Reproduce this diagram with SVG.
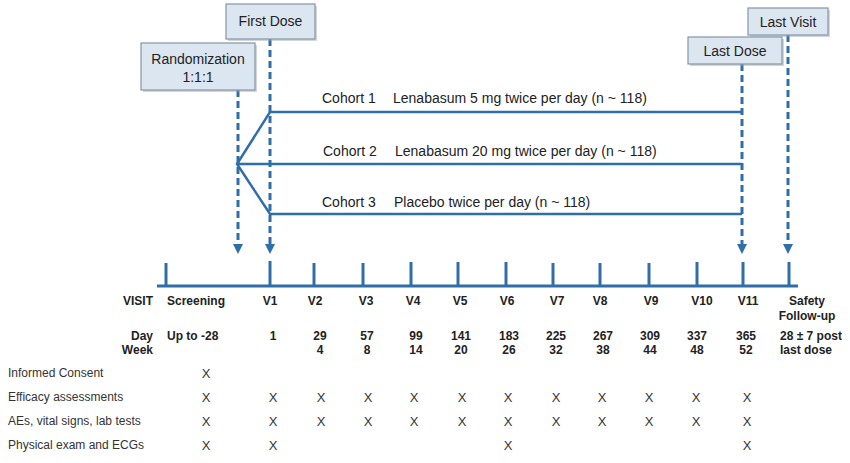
<svg xmlns="http://www.w3.org/2000/svg" width="850" height="463" viewBox="0 0 850 463">
<defs>
<style>
.box{fill:#dce6f0;stroke:#8496a8;stroke-width:1.2}
.shadow{fill:#9aa4ae;opacity:0.45}
.bt{font-family:"Liberation Sans",Arial,sans-serif;font-size:14px;fill:#222;text-anchor:middle}
.ct{font-family:"Liberation Sans",Arial,sans-serif;font-size:14px;fill:#222}
.ln{stroke:#2f6ea8;stroke-width:2.5;fill:none}
.dash{stroke:#2f6ea8;stroke-width:3;stroke-dasharray:7,4;fill:none}
.tick{stroke:#2f6ea8;stroke-width:3;fill:none}
.b{font-family:"Liberation Sans",Arial,sans-serif;font-size:12px;font-weight:bold;fill:#222;text-anchor:middle}
.bl{font-family:"Liberation Sans",Arial,sans-serif;font-size:12px;font-weight:bold;fill:#222}
.br{font-family:"Liberation Sans",Arial,sans-serif;font-size:12px;font-weight:bold;fill:#222;text-anchor:end}
.r{font-family:"Liberation Sans",Arial,sans-serif;font-size:12px;fill:#333}
.x{font-family:"Liberation Sans",Arial,sans-serif;font-size:13px;fill:#333;text-anchor:middle}
</style>
<marker id="ah" viewBox="0 0 10 10" refX="10" refY="5" markerWidth="10" markerHeight="10" markerUnits="userSpaceOnUse" orient="auto">
<path d="M0,0 L10,5 L0,10 z" fill="#2f6ea8"/>
</marker>
</defs>
<rect width="850" height="463" fill="#ffffff"/>

<g id="connectors">
<line class="dash" x1="238" y1="90" x2="238" y2="245"/>
<path d="M233,244 L243,244 L238,254 z" fill="#2f6ea8"/>
<line class="dash" x1="270" y1="39" x2="270" y2="245"/>
<path d="M265,244 L275,244 L270,254 z" fill="#2f6ea8"/>
<line class="dash" x1="742" y1="64" x2="742" y2="245"/>
<path d="M737,244 L747,244 L742,254 z" fill="#2f6ea8"/>
<line class="dash" x1="788" y1="35" x2="788" y2="245"/>
<path d="M783,244 L793,244 L788,254 z" fill="#2f6ea8"/>
<polyline class="ln" points="742,112 270,112 237,164 270,214 742,214"/>
<line class="ln" x1="237" y1="164" x2="742" y2="164"/>
</g>

<g id="randomization">
<rect class="shadow" x="143" y="45" width="114" height="47"/>
<rect class="box" x="141" y="43" width="114" height="47"/>
<text class="bt" x="198" y="64">Randomization</text>
<text class="bt" x="198" y="82">1:1:1</text>
</g>
<g id="first-dose">
<rect class="shadow" x="228" y="6" width="89" height="35"/>
<rect class="box" x="226" y="4" width="89" height="35"/>
<text class="bt" x="270.5" y="26">First Dose</text>
</g>
<g id="last-dose">
<rect class="shadow" x="690" y="39" width="94" height="27"/>
<rect class="box" x="688" y="37" width="94" height="27"/>
<text class="bt" x="735" y="56">Last Dose</text>
</g>
<g id="last-visit">
<rect class="shadow" x="750" y="10" width="80" height="27"/>
<rect class="box" x="748" y="8" width="80" height="27"/>
<text class="bt" x="788" y="27">Last Visit</text>
</g>

<g id="cohorts">
<text class="ct" x="322" y="103">Cohort 1</text>
<text class="ct" x="393" y="103">Lenabasum 5 mg twice per day (n ~ 118)</text>
<text class="ct" x="323" y="156">Cohort 2</text>
<text class="ct" x="395" y="156">Lenabasum 20 mg twice per day (n ~ 118)</text>
<text class="ct" x="322" y="207">Cohort 3</text>
<text class="ct" x="394" y="207">Placebo twice per day (n ~ 118)</text>
</g>

<g id="timeline">
<line class="tick" x1="157" y1="286" x2="798" y2="286"/>
<line class="tick" x1="166" y1="263" x2="166" y2="286"/>
<line class="tick" x1="270" y1="261" x2="270" y2="286"/>
<line class="tick" x1="314" y1="263" x2="314" y2="286"/>
<line class="tick" x1="363" y1="263" x2="363" y2="286"/>
<line class="tick" x1="411" y1="262" x2="411" y2="286"/>
<line class="tick" x1="458" y1="262" x2="458" y2="286"/>
<line class="tick" x1="506" y1="262" x2="506" y2="286"/>
<line class="tick" x1="553" y1="263" x2="553" y2="286"/>
<line class="tick" x1="600" y1="263" x2="600" y2="286"/>
<line class="tick" x1="649" y1="263" x2="649" y2="286"/>
<line class="tick" x1="697" y1="262" x2="697" y2="286"/>
<line class="tick" x1="743" y1="262" x2="743" y2="286"/>
<line class="tick" x1="789" y1="262" x2="789" y2="286"/>
</g>

<g id="visit-row">
<text class="br" x="153" y="305">VISIT</text>
<text class="bl" x="167" y="305">Screening</text>
<text class="b" x="270" y="305">V1</text>
<text class="b" x="315" y="305">V2</text>
<text class="b" x="366" y="305">V3</text>
<text class="b" x="413" y="305">V4</text>
<text class="b" x="460" y="305">V5</text>
<text class="b" x="507" y="305">V6</text>
<text class="b" x="557" y="305">V7</text>
<text class="b" x="600" y="305">V8</text>
<text class="b" x="651" y="305">V9</text>
<text class="b" x="702" y="305">V10</text>
<text class="b" x="748" y="305">V11</text>
<text class="b" x="807" y="305">Safety</text>
<text class="b" x="807" y="320">Follow-up</text>
</g>

<g id="day-row">
<text class="br" x="153" y="340">Day</text>
<text class="br" x="153" y="354">Week</text>
<text class="bl" x="167" y="340">Up to -28</text>
<text class="b" x="273" y="340">1</text>
<text class="b" x="320" y="340">29</text>
<text class="b" x="367" y="340">57</text>
<text class="b" x="416" y="340">99</text>
<text class="b" x="461" y="340">141</text>
<text class="b" x="509" y="340">183</text>
<text class="b" x="556" y="340">225</text>
<text class="b" x="603" y="340">267</text>
<text class="b" x="650" y="340">309</text>
<text class="b" x="697" y="340">337</text>
<text class="b" x="746" y="340">365</text>
<text class="bl" x="780" y="340">28 ± 7 post</text>
<text class="b" x="320" y="354">4</text>
<text class="b" x="367" y="354">8</text>
<text class="b" x="416" y="354">14</text>
<text class="b" x="461" y="354">20</text>
<text class="b" x="509" y="354">26</text>
<text class="b" x="556" y="354">32</text>
<text class="b" x="603" y="354">38</text>
<text class="b" x="650" y="354">44</text>
<text class="b" x="697" y="354">48</text>
<text class="b" x="746" y="354">52</text>
<text class="bl" x="780" y="354">last dose</text>
</g>

<g id="assessments">
<text class="r" x="8" y="377">Informed Consent</text>
<text class="r" x="8" y="401">Efficacy assessments</text>
<text class="r" x="8" y="425">AEs, vital signs, lab tests</text>
<text class="r" x="8" y="449">Physical exam and ECGs</text>
<text class="x" x="206" y="378">X</text>
<g>
<text class="x" x="206" y="402">X</text><text class="x" x="273" y="402">X</text><text class="x" x="321" y="402">X</text><text class="x" x="368" y="402">X</text><text class="x" x="414" y="402">X</text><text class="x" x="462" y="402">X</text><text class="x" x="508" y="402">X</text><text class="x" x="556" y="402">X</text><text class="x" x="602" y="402">X</text><text class="x" x="649" y="402">X</text><text class="x" x="696" y="402">X</text><text class="x" x="747" y="402">X</text>
</g>
<g>
<text class="x" x="206" y="426">X</text><text class="x" x="273" y="426">X</text><text class="x" x="321" y="426">X</text><text class="x" x="368" y="426">X</text><text class="x" x="414" y="426">X</text><text class="x" x="462" y="426">X</text><text class="x" x="508" y="426">X</text><text class="x" x="556" y="426">X</text><text class="x" x="602" y="426">X</text><text class="x" x="649" y="426">X</text><text class="x" x="696" y="426">X</text><text class="x" x="747" y="426">X</text>
</g>
<text class="x" x="206" y="450">X</text><text class="x" x="273" y="450">X</text><text class="x" x="508" y="450">X</text><text class="x" x="747" y="450">X</text>
</g>
</svg>
